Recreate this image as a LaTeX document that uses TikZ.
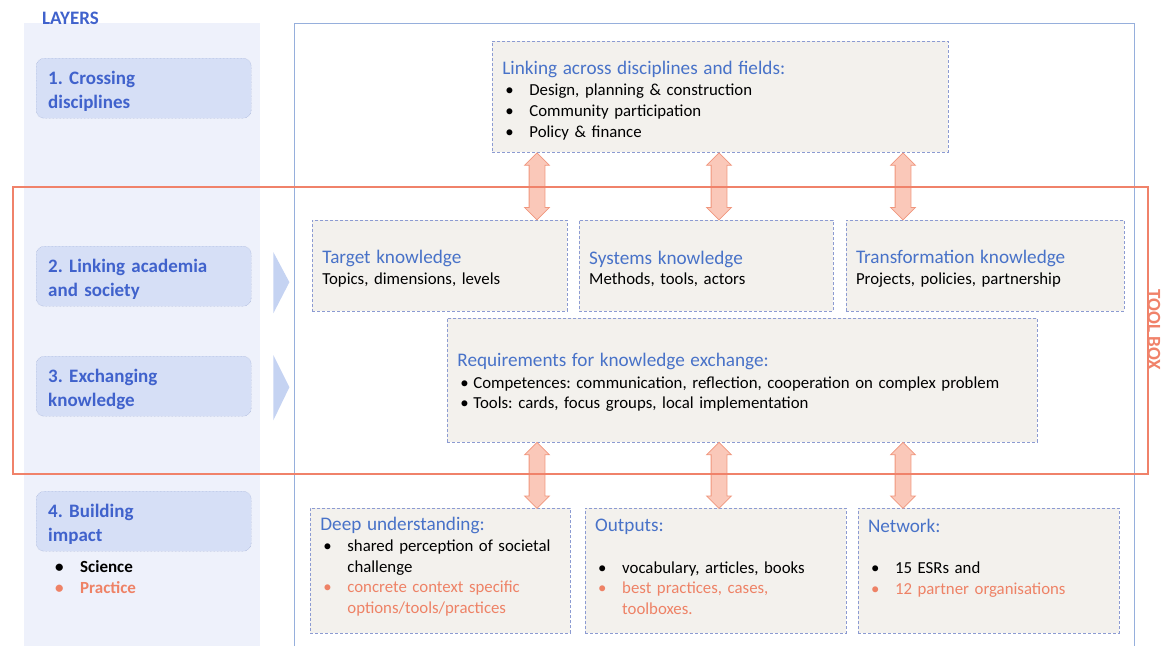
\documentclass[tikz,border=0pt]{standalone}
\usepackage{fontspec}
\setmainfont{Carlito}
\usetikzlibrary{positioning,shapes.arrows,calc}
\definecolor{layerblue}{RGB}{64,98,204}
\definecolor{titleblue}{RGB}{72,114,200}
\definecolor{colfill}{RGB}{238,241,251}
\definecolor{layerfill}{RGB}{214,223,246}
\definecolor{layerline}{RGB}{140,155,200}
\definecolor{boxfill}{RGB}{243,241,237}
\definecolor{boxline}{RGB}{140,155,210}
\definecolor{frameblue}{RGB}{150,175,220}
\definecolor{toolorange}{RGB}{240,130,106}
\definecolor{practice}{RGB}{238,130,102}
\definecolor{arrfill}{RGB}{250,200,185}
\definecolor{arrline}{RGB}{240,150,125}
\definecolor{chevfill}{RGB}{197,211,242}
\frenchspacing

\newcommand{\bitem}[2][24pt]{\hspace*{3pt}\makebox[#1][l]{\textbullet}#2}
\newcommand{\bcont}[2][24pt]{\hspace*{3pt}\hspace*{#1}#2}
\newcommand{\btitle}[2][0pt]{{\rule{0pt}{#1}\color{titleblue}\fontsize{19.2}{22}\selectfont #2}}
\newcommand{\lastdepth}[1]{\rule[-#1]{0pt}{0pt}}

\begin{document}
\begin{tikzpicture}[
    x=1pt, y=-1pt,
    font=\fontsize{16.8}{20.75}\selectfont,
    cbox/.style={draw=boxline, dash pattern=on 3pt off 2pt, line width=0.8pt, fill=boxfill,
                 inner xsep=10pt, inner ysep=0pt, align=left, anchor=north west},
    lbox/.style={draw=layerline, densely dotted, rounded corners=8pt, fill=layerfill,
                 minimum width=215pt, minimum height=60pt, text width=191pt, inner xsep=12pt,
                 align=left, anchor=north west, text=layerblue,
                 font=\bfseries\fontsize{19}{24}\selectfont,
                 execute at begin node={\rule{0pt}{19.5pt}}},
    dblarrow/.style={double arrow, draw=arrline, fill=arrfill, line width=0.8pt, rotate=90,
                 inner xsep=0pt, inner ysep=7.5pt, double arrow head extend=4.5pt,
                 double arrow head indent=0pt},
    chev/.style={fill=chevfill}
]
    \useasboundingbox (0,0) rectangle (1162,646);

    % layer column and frame
    \fill[colfill] (24,23) rectangle (260,646);
    \draw[frameblue, line width=0.8pt] (294,646) -- (294,23) -- (1134,23) -- (1134,646);

    \node[anchor=west, inner sep=0pt, text=layerblue, font=\bfseries\fontsize{19}{21}\selectfont] (layers) at (42,18) {LAYERS};
    \node[lbox] (l1) at (36,58) {1. Crossing\\disciplines};
    \node[lbox] (l2) at (36,246) {2. Linking academia\\and society};
    \node[lbox] (l3) at (36,356) {3. Exchanging\\knowledge};
    \node[lbox] (l4) at (36,491) {4. Building\\impact};
    \node[anchor=north west, inner sep=0pt, align=left, font=\bfseries\fontsize{17}{21}\selectfont] (sp) at (52,560)
        {\bitem[25pt]{Science}\\{\color{practice}\bitem[25pt]{Practice}}};

    \fill[chev] ($(l2.east)+(22,-24)$) -- ++(16,30) -- ++(-16,31) -- cycle;
    \fill[chev] ($(l3.east)+(22,-31)$) -- ++(16,32) -- ++(-16,33) -- cycle;

    % content boxes
    \node[cbox, text width=436pt, minimum height=111pt] (fields) at (492,41)
        {\btitle[20.5pt]{Linking across disciplines and fields:}\\[1pt]
         \bitem{Design, planning \& construction}\\
         \bitem{Community participation}\\
         \bitem{Policy \& finance}};

    \node[cbox, text width=235pt, minimum height=91pt] (tgt) at (312,220)
        {\btitle[19.5pt]{Target knowledge}\\Topics, dimensions, levels};
    \node[cbox, text width=234pt, minimum height=91pt, right=11pt of tgt] (sys)
        {\btitle[19.5pt]{Systems knowledge}\\Methods, tools, actors};
    \node[cbox, text width=258pt, minimum height=91pt, right=12pt of sys] (trf)
        {\btitle[19.5pt]{Transformation knowledge}\\Projects, policies, partnership};

    \node[cbox, text width=570pt, minimum height=124pt] (req) at (447,318)
        {\btitle[17.5pt]{Requirements for knowledge exchange:}\\[1pt]
         \bitem[13pt]{Competences: communication, reflection, cooperation on complex problem}\\
         \bitem[13pt]{Tools: cards, focus groups, local implementation}};

    \node[cbox, text width=240pt, minimum height=125pt] (deep) at (310,508)
        {\btitle{Deep understanding:}\\
         \bitem{shared perception of societal}\\
         \bcont{challenge}\\
         {\color{practice}\bitem{concrete context specific}}\\
         {\color{practice}\bcont{options/tools/practices}}\lastdepth{11pt}};
    \node[cbox, text width=241pt, minimum height=125pt, right=14pt of deep] (outp)
        {\btitle{Outputs:}\\
         \mbox{}\\
         \bitem{vocabulary, articles, books}\\
         {\color{practice}\bitem{best practices, cases,}}\\
         {\color{practice}\bcont{toolboxes.}}\lastdepth{8pt}};
    \node[cbox, text width=241pt, minimum height=125pt, right=11pt of outp] (netw)
        {\btitle{Network:}\\
         \mbox{}\\
         \bitem{15 ESRs and}\\
         {\color{practice}\bitem{12 partner organisations}}\\
         \mbox{}\lastdepth{8pt}};

    % double arrows between layers
    \foreach \ax in {537,719,903}{
        \node[dblarrow, minimum height=67pt] (up\ax) at ($(\ax,0 |- fields.south)!.5!(\ax,0 |- tgt.north)$) {};
        \node[dblarrow, minimum height=66pt] (dn\ax) at ($(\ax,0 |- req.south)!.5!(\ax,0 |- deep.north)$) {};
    }

    % tool box
    \draw[toolorange, line width=2pt] (13,187) rectangle (1148,474);
    \node[rotate=-90, inner sep=0pt, text=toolorange, font=\bfseries\fontsize{19}{21}\selectfont] (tblabel) at (1154,330) {TOOL BOX};
\end{tikzpicture}
\end{document}
